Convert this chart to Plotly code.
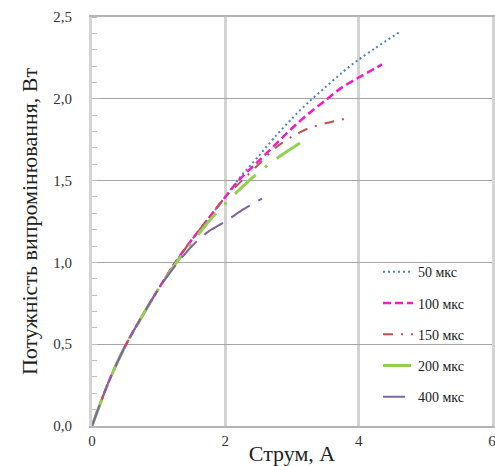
import plotly.graph_objects as go

# ---- data ----
labels = ["50 мкс", "100 мкс", "150 мкс", "200 мкс", "400 мкс"]

common_I = [0, 0.25, 0.5, 0.75, 1.0, 1.25, 1.5, 1.75, 2.0]
common_P = [0, 0.27, 0.49, 0.67, 0.84, 1.00, 1.14, 1.27, 1.40]

I_50 = common_I + [2.22, 2.5, 2.75, 3.0, 3.25, 3.5, 3.75, 4.0, 4.25, 4.62]
P_50 = common_P + [1.52, 1.65, 1.77, 1.88, 1.98, 2.07, 2.16, 2.24, 2.31, 2.41]

I_100 = common_I + [2.22, 2.5, 2.75, 3.0, 3.25, 3.5, 3.75, 4.0, 4.35]
P_100 = common_P + [1.51, 1.62, 1.72, 1.82, 1.91, 1.99, 2.07, 2.13, 2.21]

I_150 = common_I + [2.25, 2.5, 2.75, 3.0, 3.25, 3.5, 3.82]
P_150 = common_P + [1.50, 1.60, 1.70, 1.77, 1.82, 1.85, 1.88]

I_200 = [0, 0.25, 0.5, 0.75, 1.0, 1.25, 1.5, 1.75, 2.0, 2.25, 2.5, 2.75, 3.12]
P_200 = [0, 0.27, 0.49, 0.67, 0.84, 0.99, 1.12, 1.25, 1.36, 1.46, 1.55, 1.63, 1.73]

I_400 = [0, 0.25, 0.5, 0.75, 1.0, 1.25, 1.5, 1.75, 2.0, 2.25, 2.55]
P_400 = [0, 0.27, 0.49, 0.67, 0.84, 0.98, 1.10, 1.19, 1.25, 1.32, 1.39]

x_ticks = [0, 2, 4, 6]
y_ticks = [0, 0.5, 1.0, 1.5, 2.0, 2.5]

series = [
    (I_50, P_50, "#4F81BD", "2px,3px", 2),
    (I_100, P_100, "#F21BC4", "8px,4px", 2.5),
    (I_150, P_150, "#C9504D", "10px,8px,2px,8px", 2),
    (I_200, P_200, "#92D050", "28px,12px,3px,12px", 3),
    (I_400, P_400, "#8064A2", "22px,10px", 2),
]

fig = go.Figure()
for i, (xs, ys, col, dash, w) in enumerate(series):
    fig.add_trace(go.Scatter(
        x=xs, y=ys, mode="lines", name=labels[i], legendgroup=f"g{i}",
        line=dict(color=col, dash=dash, width=w, shape="spline", smoothing=0.8),
    ))

serif = "Liberation Serif, Times New Roman, serif"

fig.update_layout(
    width=495, height=466,
    margin=dict(l=92, r=3, t=17, b=40, autoexpand=False),
    paper_bgcolor="white", plot_bgcolor="white",
    separators=", ",
    showlegend=True,
    legend=dict(
        x=0.715, xanchor="left", y=0.415, yanchor="top",
        bgcolor="rgba(0,0,0,0)", borderwidth=0,
        font=dict(family=serif, size=14, color="#222"),
        tracegroupgap=10, itemwidth=30,
    ),
    font=dict(family=serif, color="#333"),
)

fig.update_xaxes(
    range=[0, 6], tickvals=x_ticks, ticktext=[str(v) for v in x_ticks],
    showgrid=True, gridcolor="#D3D3D3", gridwidth=3,
    showline=True, linecolor="#B4B4B4", linewidth=1.5, mirror=True,
    zeroline=False, ticks="", tickfont=dict(family=serif, size=15, color="#333"),
    ticklabeloverflow="allow", automargin=False,
    title=dict(text="Струм, А", font=dict(family=serif, size=22, color="#222"), standoff=2),
)
fig.update_yaxes(
    range=[0, 2.5], tickvals=y_ticks, tickformat=".1f",
    showgrid=True, gridcolor="#A6A6A6", gridwidth=1,
    showline=True, linecolor="#D3D3D3", linewidth=3, mirror=True,
    zeroline=False, ticks="", tickfont=dict(family=serif, size=15, color="#333"),
    ticklabelstandoff=14, automargin=False,
    minor=dict(dtick=0.1, ticks="inside", ticklen=5, tickcolor="#BFBFBF", showgrid=False),
    title=dict(text="Потужність випромінювання, Вт", font=dict(family=serif, size=22, color="#222"), standoff=10),
)

fig.write_html("out.html")
